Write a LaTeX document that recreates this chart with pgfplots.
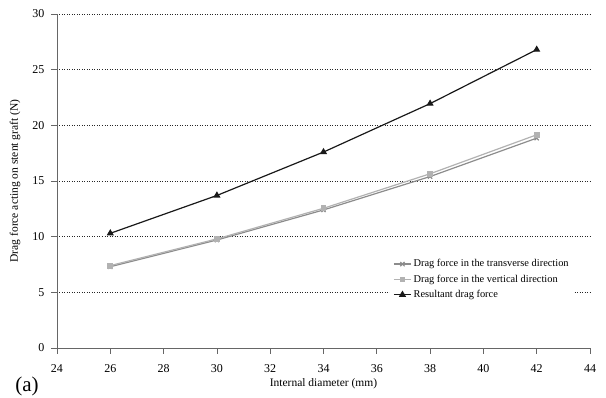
\documentclass[border=0pt]{standalone}
\usepackage{fontspec}
\setmainfont{Liberation Serif}
\usepackage{pgfplots}
\pgfplotsset{compat=1.18}
\begin{document}
\begin{tikzpicture}[x=1pt,y=1pt]
\begin{axis}[
  scale only axis, width=533pt, height=334pt,
  at={(0pt,0pt)}, anchor=south west,
  xmin=24, xmax=44, ymin=0, ymax=30,
  xtick={24,26,...,44}, ytick={0,5,...,30},
  axis lines*=left,
  axis line style={draw=black!60, line width=0.8pt},
  tick style={draw=black!60, line width=0.8pt},
  tick align=outside, major tick length=6pt,
  ymajorgrids, grid style={dash pattern=on 1pt off 1.5pt, black!85, line width=0.7pt},
  /pgf/number format/assume math mode=true,
  tick label style={font=\fontsize{12}{14}\selectfont},
  xticklabel style={yshift=-7pt},
  yticklabel style={xshift=-3pt},
  xlabel={Internal diameter (mm)},
  label style={font=\fontsize{11.5}{13}\selectfont},
  xlabel style={at={(rel axis cs:0.5,0)}, anchor=center, yshift=-36pt},
  legend style={at={(rel axis cs:0.625,0.28)}, anchor=north west, draw=none, fill=white,
    font=\fontsize{10.4}{12}\selectfont, row sep=2.5pt, inner sep=3pt},
  legend cell align=left,
]
\addplot[color=black!45, line width=1.2pt, mark=x, mark size=3pt] coordinates {
  (26,7.3) (30,9.7) (34,12.4) (38,15.4) (42,18.85)};
\addlegendentry{Drag force in the transverse direction}
\addplot[color=black!30, line width=1.2pt, mark=square*, mark size=2.3pt] coordinates {
  (26,7.4) (30,9.8) (34,12.55) (38,15.65) (42,19.15)};
\addlegendentry{Drag force in the vertical direction}
\addplot[color=black!90, line width=1.2pt, mark=triangle*, mark size=3pt] coordinates {
  (26,10.3) (30,13.7) (34,17.6) (38,21.95) (42,26.8)};
\addlegendentry{Resultant drag force}
\end{axis}
\node[rotate=90, font=\fontsize{11.5}{13}\selectfont] at (-42,167) {Drag force acting on stent graft (N)};
\node[font=\fontsize{21}{23}\selectfont] at (-30,-38) {(a)};
\pgfresetboundingbox
\useasboundingbox (-57,-50) rectangle (549,348);
\end{tikzpicture}
\end{document}
